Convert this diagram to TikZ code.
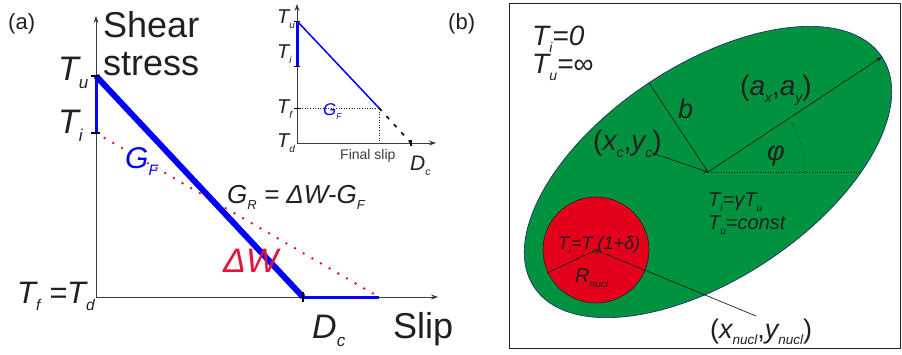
\documentclass[tikz,border=0pt]{standalone}
\usepackage{fontspec}
\setmainfont{Liberation Sans}
\usepackage{graphicx}
\usetikzlibrary{arrows.meta,calc}
\definecolor{egreen}{RGB}{0,146,63}
\definecolor{nred}{RGB}{226,0,26}
\definecolor{crim}{RGB}{225,20,60}
\definecolor{navy}{RGB}{30,30,110}
\definecolor{axgray}{RGB}{60,60,60}
\definecolor{ink}{RGB}{35,31,32}
\newcommand{\fs}[1]{\fontsize{#1}{#1}\selectfont}
\newcommand{\lo}[1]{\raisebox{-0.25em}{\scalebox{0.5}{#1}}}
\begin{document}
\begin{tikzpicture}[x=1pt,y=1pt,
  lbl/.style={inner sep=0pt, anchor=base west, text=ink},
  axisline/.style={draw=axgray, line width=0.8, -{Stealth[length=7pt,width=5pt]}},
  tickmark/.style={draw=black, line width=2},
  thinarrow/.style={draw=ink, line width=0.7},
]
\useasboundingbox (0,0) rectangle (902,-354);

% ---------- panel (a) ----------
\coordinate (O) at (96,-297);
\coordinate (Ytop) at (96,-16);
\coordinate (Xend) at (438,-297);
\coordinate (Tu) at (96,-76);
\coordinate (Ti) at (96,-133);
\coordinate (Dc) at (303,-297);
\coordinate (Fe) at (379,-297);

\draw[axisline] (O) -- (Ytop);
\draw[axisline] (O) -- (Xend);
\draw[crim, line width=2.8, line cap=round, dash pattern=on 0pt off 10pt] (Ti) -- (Fe);
\draw[blue, line width=3] (Tu) -- (Ti);
\draw[blue, line width=3] (Dc) -- (Fe);
\draw[blue, line width=6] (Tu) -- (Dc);
\draw[tickmark] ($(Tu)+(-5,0)$) -- ($(Tu)+(4,0)$);
\draw[tickmark] ($(Ti)+(-5,0)$) -- ($(Ti)+(4,0)$);
\draw[tickmark] ($(Dc)+(0,5)$) -- ($(Dc)+(0,-5)$);

\node[lbl, font=\fs{22}] (la) at (8,-29) {(a)};
\node[lbl, font=\fs{36}] (shear) at (103,-37) {Shear};
\node[lbl, font=\fs{36}] (stress) at (103,-75) {stress};
\node[lbl, font=\fs{34}\itshape] (lTu) at (58,-80) {T\lo{u}};
\node[lbl, font=\fs{34}\itshape] (lTi) at (58,-133) {T\lo{i}};
\node[lbl, font=\fs{30}\itshape, text=blue] (lGF) at (125,-168) {G\lo{F}};
\node[lbl, font=\fs{26}\itshape] (lGR) at (227,-203) {G\lo{R} = ΔW-G\lo{F}};
\node[lbl, font=\fs{34}\itshape, text=crim] (lDW) at (223,-272) {ΔW};
\node[lbl, font=\fs{31}\itshape] (lTf) at (17,-303) {T\lo{f} =T\lo{d}};
\node[lbl, font=\fs{34}\itshape] (lDc) at (312,-338) {D\lo{c}};
\node[lbl, font=\fs{36}] (lslip) at (393,-338) {Slip};

% ---------- inset ----------
\coordinate (O2) at (297,-143);
\coordinate (Y2) at (297,-4);
\coordinate (X2) at (436,-143);
\coordinate (Tu2) at (297,-21);
\coordinate (Ti2) at (297,-66);
\coordinate (Tf2) at (297,-108);
\coordinate (P2) at (379,-108);
\coordinate (Q2) at (379,-143);
\coordinate (Dc2) at (411,-143);

\draw[axisline, line width=0.7] (O2) -- (Y2);
\draw[axisline, line width=0.7] (O2) -- (X2);
\draw[ink, line width=0.6, dotted] (Tf2) -- (P2) -- (Q2);
\draw[black, line width=1.6, dash pattern=on 4pt off 7pt] (P2) -- (Dc2);
\draw[blue, line width=3] (Tu2) -- (Ti2);
\draw[blue, line width=1.5] (Tu2) -- (P2);
\draw[black, line width=1] ($(Tu2)+(-3,0)$) -- ($(Tu2)+(3,0)$);
\draw[black, line width=1] ($(Ti2)+(-3,0)$) -- ($(Ti2)+(3,0)$);
\draw[black, line width=1] ($(Tf2)+(-3,0)$) -- ($(Tf2)+(3,0)$);
\draw[black, line width=1.2] ($(Dc2)+(0,3)$) -- ($(Dc2)+(0,-3)$);

\node[lbl, font=\fs{20}\itshape] (iTu) at (277,-23) {T\lo{u}};
\node[lbl, font=\fs{20}\itshape] (iTi) at (277,-58) {T\lo{i}};
\node[lbl, font=\fs{20}\itshape] (iTf) at (277,-113) {T\lo{f}};
\node[lbl, font=\fs{20}\itshape] (iTd) at (277,-147) {T\lo{d}};
\node[lbl, font=\fs{17}\itshape, text=blue] (iGF) at (323,-115) {G\lo{F}};
\node[lbl, font=\fs{14}, text=axgray] (ifs) at (340,-159) {Final slip};
\node[lbl, font=\fs{21}\itshape] (iDc) at (410,-170) {D\lo{c}};

% ---------- panel (b) ----------
\node[lbl, font=\fs{22}] (lb) at (448,-29) {(b)};
\draw[ink, line width=1] (509,-3) rectangle (900,-348);

\coordinate (C) at (708,-172);
\fill[egreen, draw=navy, line width=0.6, rotate around={33.5:(C)}]
  (C) ellipse [x radius=208.6, y radius=107];
\coordinate (A) at ($(C)+(33.5:208.6pt)$);
\coordinate (B) at ($(C)+(123.5:107pt)$);
\coordinate (H) at ($(C)+(153.2pt,0)$);
\coordinate (R0) at ($(C)+(97pt,0)$);
\coordinate (XC) at (652,-153);

\draw[ink, line width=0.6, dotted] (C) -- (H);
\draw[ink, line width=0.6, dotted] (R0) arc[start angle=0, end angle=33.5, radius=97pt];
\draw[thinarrow, -{Stealth[length=6pt,width=4pt]}] (C) -- (A);
\draw[thinarrow] (C) -- (B);
\draw[thinarrow, -{To[length=4pt,width=6pt]}] (XC) -- (C);

\coordinate (N) at (596,-250);
\coordinate (Rr) at (547,-273);
\coordinate (NL) at (756,-316);
\fill[nred, draw=ink, line width=0.6] (N) circle (53);
\draw[thinarrow] (N) -- (Rr);
\draw[thinarrow, -{To[length=4pt,width=6pt]}] (NL) -- (N);

\node[lbl, font=\fs{28}\itshape] (bTi) at (532,-45) {T\lo{i}=0};
\node[lbl, font=\fs{28}\itshape] (bTu) at (532,-73) {T\lo{u}=∞};
\node[lbl, font=\fs{28}] (lA) at (740,-95) {(\textit{a\lo{x}},\textit{a\lo{y}})};
\node[lbl, font=\fs{27}\itshape] (lB) at (678,-118) {b};
\node[lbl, font=\fs{28}] (lXC) at (593,-150) {(\textit{x\lo{c}},\textit{y\lo{c}})};
\node[lbl, font=\fs{27}\itshape] (lphi) at (767,-160) {φ};
\node[lbl, font=\fs{20}\itshape] (lg1) at (708,-206) {T\lo{i}=γT\lo{u}};
\node[lbl, font=\fs{20}\itshape] (lg2) at (708,-229) {T\lo{u}=const};
\node[lbl, font=\fs{18}\itshape] (lr1) at (558,-249) {T\lo{i}=T\lo{u}(1+δ)};
\node[lbl, font=\fs{20}\itshape] (lr2) at (575,-282) {R\lo{nucl}};
\node[lbl, font=\fs{27}] (lN) at (710,-338) {(\textit{x\lo{nucl}},\textit{y\lo{nucl}})};
\end{tikzpicture}
\end{document}
